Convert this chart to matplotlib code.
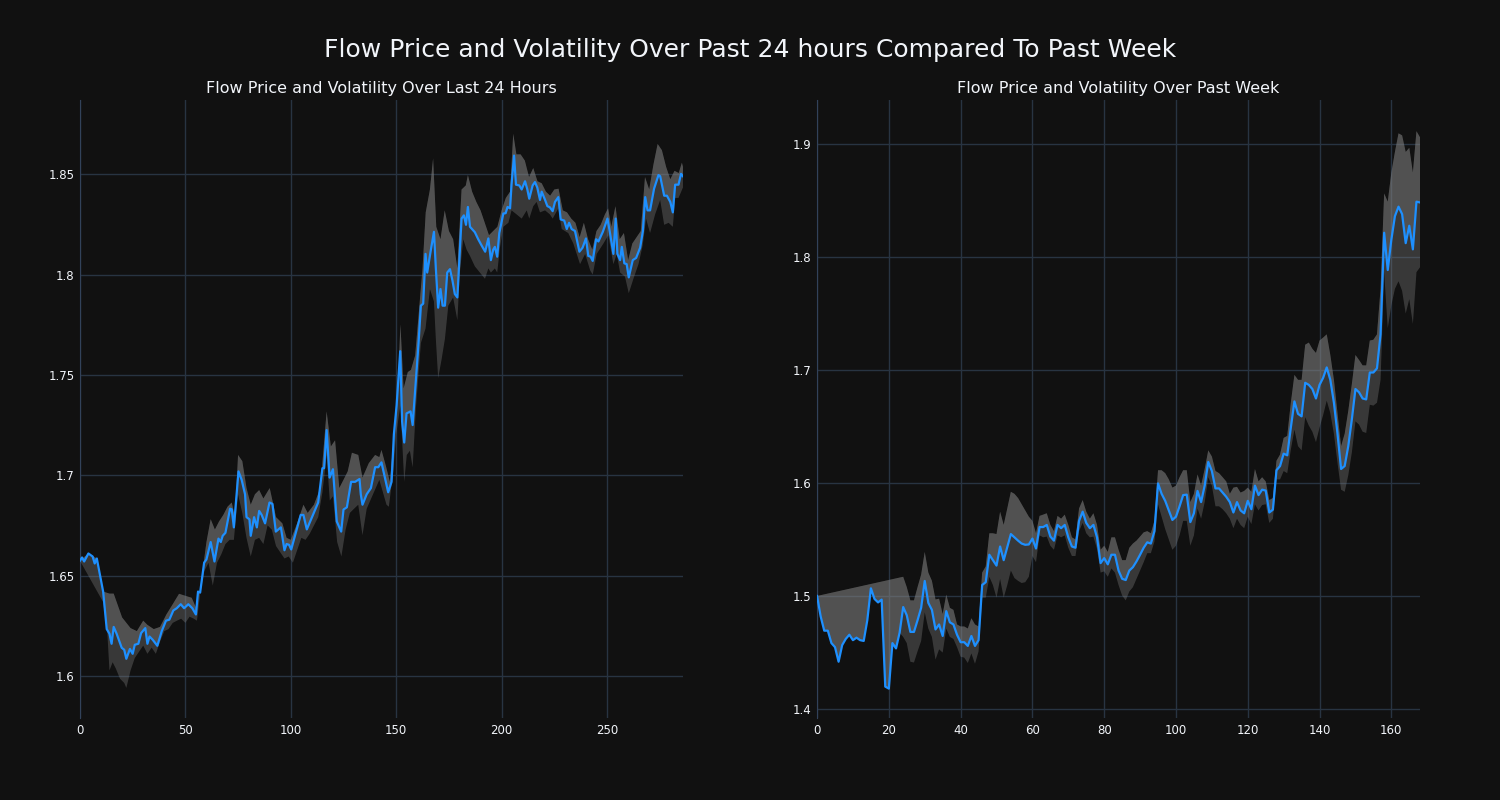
import numpy as np
import matplotlib.pyplot as plt
from matplotlib.ticker import FuncFormatter, MultipleLocator

# ---- last 24 hours (5 minute steps) ----
day_x = [0, 1, 2, 4, 6, 7, 8, 11, 12.7, 14, 15, 16, 17.4, 19.8, 21, 22, 23.7, 25, 26, 27.7,
         29, 31, 32, 33, 34.5, 36.7, 38.8, 40.8, 42.4, 44.3, 45.9, 47.8, 49.4, 51.4, 53.3, 55,
         56, 57, 58.9, 60, 62, 63.8, 65.7, 66.8, 67.7, 69, 71.2, 72, 73, 75.2, 76.7, 78.3, 79,
         80.4, 81, 82.6, 83.9, 85, 86.2, 87.8, 89.9, 91.3, 92.9, 95.3, 97, 98, 99.2, 100.2,
         104.7, 106, 107.6, 113, 115, 115.8, 117, 118.4, 120, 121.8, 123.9, 125, 126.6, 128.6,
         130.5, 132.6, 133.2, 134, 136, 138, 140, 141.5, 143, 146.2, 147.8, 148.9, 150.2, 151.9,
         152.8, 153.8, 154.9, 156.8, 157.8, 159.3, 160.6, 161.7, 162.8, 163.9, 164.7, 166.3,
         167.9, 168.8, 169.9, 171, 172, 173.1, 174.2, 175.5, 176.7, 177.8, 179, 180.2, 181,
         182.1, 183.1, 184, 185, 187.3, 188.9, 190.5, 192.2, 193.7, 194.9, 196, 196.8, 197.9,
         198.9, 200, 200.8, 201.9, 202.8, 204, 204.7, 205.9, 206.8, 208.4, 209.5, 211.1, 212.2,
         213.1, 214.7, 215.8, 216.9, 218.2, 219, 220.6, 221.7, 222.9, 224.2, 225.3, 226.9, 228,
         229.7, 230.9, 232, 233.2, 234.8, 236.9, 238.4, 240, 241.1, 242.2, 243.2, 244.8, 245.9,
         248, 250.2, 251.4, 253, 254.1, 254.9, 256.2, 257, 258.2, 259.3, 260.3, 262.2, 263.8,
         265.7, 267, 268.1, 269.2, 270.4, 272.3, 274.4, 275.2, 277.1, 278.4, 280, 281.2, 282.3,
         283.9, 285.1, 286]
day_price = [1.6574, 1.659, 1.657, 1.661, 1.6595, 1.656, 1.6585, 1.642, 1.6233, 1.621, 1.616,
             1.6244, 1.621, 1.614, 1.613, 1.6085, 1.6134, 1.611, 1.6155, 1.616, 1.6213, 1.6238,
             1.616, 1.6196, 1.618, 1.615, 1.6223, 1.6275, 1.628, 1.6326, 1.6337, 1.6357, 1.6337,
             1.6357, 1.6337, 1.6306, 1.642, 1.6415, 1.6564, 1.658, 1.6667, 1.657, 1.6684, 1.6667,
             1.6698, 1.6713, 1.6833, 1.683, 1.674, 1.7019, 1.6977, 1.6905, 1.6791, 1.678, 1.6698,
             1.6791, 1.674, 1.6822, 1.6802, 1.676, 1.6864, 1.6857, 1.6719, 1.674, 1.6626, 1.6657,
             1.6653, 1.663, 1.6802, 1.6802, 1.673, 1.6864, 1.7035, 1.7035, 1.7225, 1.6988, 1.703,
             1.677, 1.6719, 1.6829, 1.684, 1.6967, 1.6967, 1.6981, 1.6905, 1.6853, 1.6905, 1.6936,
             1.704, 1.704, 1.7064, 1.6915, 1.6967, 1.7205, 1.7349, 1.7618, 1.7267, 1.7163, 1.7308,
             1.7318, 1.725, 1.7473, 1.7659, 1.7845, 1.7855, 1.8103, 1.801, 1.8114, 1.8213, 1.8031,
             1.7835, 1.7928, 1.7845, 1.7845, 1.801, 1.8027, 1.7969, 1.7903, 1.7886, 1.8124, 1.8279,
             1.8295, 1.8248, 1.8337, 1.8238, 1.8211, 1.8176, 1.8145, 1.8114, 1.818, 1.8072, 1.8124,
             1.8138, 1.8089, 1.8207, 1.8262, 1.8304, 1.8306, 1.8337, 1.833, 1.8448, 1.8593, 1.8448,
             1.8444, 1.8424, 1.8465, 1.8424, 1.8378, 1.8444, 1.8461, 1.8434, 1.8372, 1.8413, 1.8372,
             1.8341, 1.8335, 1.8316, 1.8362, 1.8386, 1.8275, 1.8269, 1.8227, 1.8258, 1.8227, 1.8217,
             1.8114, 1.8134, 1.818, 1.8093, 1.8089, 1.8068, 1.8176, 1.8165, 1.8213, 1.8279, 1.8207,
             1.8103, 1.8279, 1.8103, 1.8072, 1.8138, 1.8056, 1.8052, 1.7986, 1.8072, 1.8083, 1.8134,
             1.8217, 1.8386, 1.832, 1.832, 1.8428, 1.8496, 1.849, 1.8393, 1.8393, 1.8362, 1.831,
             1.8448, 1.8448, 1.8502, 1.849]

day_upper_x = [0, 4, 8, 11, 14, 16, 20, 24, 27, 30, 32, 35, 38, 41, 44, 47, 50, 53, 55, 57, 60,
               62, 64, 66, 68, 70, 72, 73.5, 75, 77, 79, 81, 83, 85, 87, 90, 93, 96, 98, 100,
               103, 106, 108, 111, 114, 117, 119, 121, 123, 125, 127, 129, 132, 134, 137, 140,
               142, 143, 145, 147, 149, 151, 152, 153.5, 155.5, 157, 159, 161, 162.5, 164, 166,
               167.5, 169, 171, 173, 175, 177, 179, 181, 183, 184, 186, 188, 190, 192, 194, 196,
               198, 200, 202, 204, 205.5, 207, 209, 211, 213, 215, 217, 219, 221, 223, 225, 227,
               229, 231, 233, 235, 237, 239, 241, 243, 245, 247, 249, 250.5, 252, 254, 256, 258,
               260, 262, 264, 266, 268, 270, 272, 274, 276, 278, 280, 282, 284, 285.5, 286]
day_upper = [1.6574, 1.661, 1.6585, 1.642, 1.641, 1.641, 1.6291, 1.6238, 1.6223, 1.6275, 1.6254,
             1.6233, 1.6244, 1.6306, 1.6357, 1.6409, 1.6399, 1.6389, 1.6341, 1.643, 1.6667,
             1.6781, 1.6729, 1.677, 1.6802, 1.6843, 1.6864, 1.6791, 1.7101, 1.707, 1.6936, 1.6853,
             1.6905, 1.6926, 1.6884, 1.6936, 1.6791, 1.676, 1.6688, 1.6678, 1.676, 1.6853, 1.6812,
             1.6853, 1.6936, 1.7318, 1.7143, 1.7174, 1.6936, 1.6977, 1.7019, 1.7112, 1.7101,
             1.6988, 1.706, 1.7101, 1.709, 1.7126, 1.705, 1.6967, 1.7205, 1.7494, 1.7752, 1.7432,
             1.7514, 1.7525, 1.7597, 1.7845, 1.8031, 1.831, 1.8424, 1.8579, 1.8238, 1.8176, 1.832,
             1.8217, 1.8176, 1.8031, 1.8424, 1.8444, 1.8496, 1.8413, 1.8362, 1.832, 1.8258,
             1.8196, 1.8217, 1.8238, 1.832, 1.8382, 1.8413, 1.8702, 1.8599, 1.8599, 1.8568,
             1.8486, 1.8531, 1.8465, 1.8455, 1.8413, 1.8393, 1.8424, 1.8428, 1.832, 1.831, 1.8279,
             1.8258, 1.8186, 1.8258, 1.8176, 1.8124, 1.8217, 1.8248, 1.83, 1.833, 1.8238, 1.8341,
             1.8176, 1.8207, 1.8072, 1.8155, 1.8186, 1.8217, 1.8486, 1.8424, 1.8548, 1.8651,
             1.862, 1.8537, 1.8475, 1.8517, 1.8506, 1.8558, 1.8537]

day_lower_x = [0, 11, 13, 14, 15.5, 17, 19, 21, 22, 24, 26, 28, 30, 32, 34, 36, 38, 40, 42, 44,
               46, 48, 50, 52, 54, 55.5, 57, 59, 61, 63, 65, 67, 69, 71, 73, 75, 77, 79, 81, 83,
               85, 87, 89, 91, 93, 95, 97, 99, 101, 103, 105, 107, 109, 111, 113, 115, 117, 118.5,
               120, 122, 124, 126, 128, 130, 132, 134, 136, 139, 142, 145.4, 146.5, 148.6, 150,
               152, 153.8, 155, 156.5, 157.8, 159.3, 161.7, 163.9, 166, 167.9, 168.8, 169.9, 171.5,
               173.1, 174.7, 177, 179, 180.2, 181.8, 183.4, 185, 187.3, 189.7, 192.1, 193.7, 194.9,
               196.8, 197.9, 199.2, 200.8, 203.2, 204.7, 205.9, 207.1, 209.5, 211.9, 213.1, 215,
               216.6, 218.2, 220.6, 222.9, 224.2, 226.9, 228.5, 231.6, 234, 237.2, 239.6, 242,
               243.2, 245.1, 248.3, 250.6, 253, 254.6, 256.2, 258.5, 260.3, 262.5, 264.9, 266.9,
               268.5, 270.4, 272.8, 275.2, 277.1, 279.2, 281.2, 282.3, 283.9, 286]
day_lower = [1.6574, 1.6368, 1.6213, 1.6027, 1.6068, 1.6037, 1.5986, 1.5965, 1.594, 1.6027,
             1.6089, 1.612, 1.6151, 1.611, 1.6141, 1.611, 1.6171, 1.6223, 1.6233, 1.6264, 1.6275,
             1.6285, 1.6264, 1.6295, 1.6285, 1.6275, 1.6409, 1.6523, 1.6564, 1.645, 1.6564,
             1.6605, 1.6657, 1.6678, 1.6678, 1.6905, 1.6812, 1.6688, 1.6595, 1.6678, 1.6688,
             1.6657, 1.675, 1.6729, 1.6647, 1.6616, 1.6585, 1.6595, 1.6564, 1.6626, 1.6688,
             1.6678, 1.6709, 1.675, 1.6791, 1.6915, 1.7101, 1.6874, 1.6895, 1.6667, 1.6595,
             1.6729, 1.6812, 1.6833, 1.6853, 1.6701, 1.6833, 1.6905, 1.6977, 1.6853, 1.6843,
             1.7019, 1.7205, 1.7349, 1.6967, 1.7101, 1.7122, 1.7039, 1.7329, 1.7659, 1.7731,
             1.7928, 1.7866, 1.768, 1.7484, 1.7576, 1.768, 1.7845, 1.7886, 1.7773, 1.801, 1.8176,
             1.8124, 1.8093, 1.8041, 1.801, 1.7979, 1.8031, 1.801, 1.8031, 1.801, 1.8134, 1.8238,
             1.8258, 1.832, 1.831, 1.83, 1.8279, 1.832, 1.8279, 1.8341, 1.8362, 1.831, 1.832,
             1.83, 1.8279, 1.833, 1.8227, 1.8207, 1.8155, 1.8052, 1.8103, 1.8021, 1.8, 1.8103,
             1.8155, 1.8196, 1.8052, 1.8103, 1.801, 1.799, 1.7907, 1.7979, 1.8052, 1.8145,
             1.8279, 1.8207, 1.83, 1.8372, 1.8248, 1.8258, 1.8238, 1.8382, 1.8382, 1.8434]

# ---- past week (hourly) ----
week_price = [1.5, 1.482, 1.4693, 1.4693, 1.4583, 1.4547, 1.4418, 1.4565, 1.462, 1.4657, 1.4609,
              1.4631, 1.4609, 1.4602, 1.4785, 1.5068, 1.4974, 1.4943, 1.4968, 1.4198, 1.418,
              1.4583, 1.4536, 1.4675, 1.4902, 1.4829, 1.4682, 1.4682, 1.4785, 1.4895, 1.5133,
              1.4939, 1.4877, 1.4704, 1.4748, 1.4646, 1.4866, 1.4767, 1.4748, 1.4657, 1.4591,
              1.4591, 1.4558, 1.4646, 1.4558, 1.4609, 1.5097, 1.5122, 1.5365, 1.5317, 1.5269,
              1.5438, 1.5317, 1.5434, 1.5548, 1.5519, 1.549, 1.5464, 1.5453, 1.5456, 1.5508,
              1.542, 1.561, 1.561, 1.5629, 1.5526, 1.549, 1.5629, 1.56, 1.5629, 1.5519, 1.5438,
              1.5427, 1.5665, 1.5746, 1.5647, 1.56, 1.5629, 1.5519, 1.5291, 1.5335, 1.528, 1.5365,
              1.5365, 1.5225, 1.5152, 1.5141, 1.5225, 1.5255, 1.5306, 1.5365, 1.5427, 1.5475,
              1.5464, 1.5574, 1.5996, 1.5904, 1.5842, 1.5757, 1.5673, 1.5702, 1.5794, 1.5893,
              1.5897, 1.5654, 1.5732, 1.593, 1.5831, 1.5977, 1.6186, 1.6106, 1.5952, 1.5952,
              1.5915, 1.5878, 1.5831, 1.5739, 1.5831, 1.5757, 1.5732, 1.5842, 1.5768, 1.5977,
              1.5893, 1.5941, 1.5933, 1.5739, 1.5764, 1.6113, 1.615, 1.626, 1.6245, 1.6491, 1.6722,
              1.6612, 1.659, 1.6887, 1.6869, 1.6832, 1.6748, 1.6869, 1.6931, 1.7023, 1.6913,
              1.6711, 1.6436, 1.6124, 1.615, 1.6326, 1.6564, 1.6832, 1.6803, 1.6748, 1.674, 1.6978,
              1.6978, 1.7015, 1.7316, 1.8215, 1.7885, 1.8153, 1.8362, 1.8446, 1.838, 1.8123,
              1.8277, 1.8068, 1.849, 1.8483]

# upper edge: first point, then hours 24..168
week_upper = [1.5, 1.517, 1.5078, 1.4961, 1.4961, 1.5078, 1.5189, 1.539, 1.5207, 1.5134, 1.4969,
              1.4976, 1.484, 1.5012, 1.4895, 1.4877, 1.4748, 1.473, 1.473, 1.4712, 1.4803,
              1.4748, 1.473, 1.5207, 1.5262, 1.5555, 1.5555, 1.5548, 1.5746, 1.5629, 1.5775,
              1.5922, 1.5904, 1.5867, 1.5812, 1.5757, 1.5702, 1.5665, 1.5555, 1.5709, 1.572,
              1.5732, 1.5629, 1.5574, 1.5709, 1.5684, 1.572, 1.5629, 1.5519, 1.55, 1.5775, 1.5849,
              1.5746, 1.5684, 1.5732, 1.5629, 1.5409, 1.5445, 1.539, 1.5519, 1.5519, 1.5409,
              1.5317, 1.5317, 1.5427, 1.5464, 1.549, 1.5526, 1.5563, 1.5574, 1.5555, 1.5665,
              1.6113, 1.6113, 1.6087, 1.6032, 1.5959, 1.5977, 1.6051, 1.6113, 1.6113, 1.5831,
              1.5904, 1.6076, 1.5977, 1.6124, 1.6289, 1.6234, 1.6106, 1.6087, 1.6051, 1.6014,
              1.5904, 1.5959, 1.5966, 1.5915, 1.593, 1.5959, 1.5922, 1.6124, 1.6014, 1.6051,
              1.6014, 1.5849, 1.5867, 1.6197, 1.6252, 1.6399, 1.6417, 1.6711, 1.6957, 1.6913,
              1.6913, 1.7224, 1.7243, 1.7188, 1.7151, 1.7261, 1.7287, 1.7316, 1.7133, 1.6913,
              1.6619, 1.6326, 1.6436, 1.6638, 1.6876, 1.7133, 1.7089, 1.7041, 1.7041, 1.7261,
              1.7268, 1.7316, 1.7719, 1.8563, 1.849, 1.8747, 1.893, 1.9095, 1.9077, 1.893, 1.8967,
              1.8747, 1.9114, 1.9059]

# lower edge for hours 24..168 (before that it sits on the price line)
week_lower = [1.4638, 1.4583, 1.4418, 1.4411, 1.451, 1.4602, 1.4857, 1.4712, 1.4638, 1.4437,
              1.4528, 1.4499, 1.4712, 1.4638, 1.462, 1.4547, 1.4462, 1.4455, 1.4407, 1.4492, 1.44,
              1.451, 1.4985, 1.4985, 1.517, 1.5097, 1.4985, 1.5152, 1.4985, 1.5097, 1.5225, 1.5159,
              1.5134, 1.5115, 1.5122, 1.517, 1.5354, 1.5299, 1.5537, 1.5519, 1.5526, 1.5445,
              1.5409, 1.5537, 1.5519, 1.5537, 1.5427, 1.5354, 1.5354, 1.5574, 1.5647, 1.5555,
              1.5519, 1.5526, 1.5416, 1.5207, 1.5218, 1.517, 1.5244, 1.5207, 1.5097, 1.5004,
              1.4961, 1.504, 1.5078, 1.5152, 1.5225, 1.5299, 1.5379, 1.5379, 1.5482, 1.5812,
              1.5702, 1.5592, 1.55, 1.5409, 1.5445, 1.5537, 1.5665, 1.5665, 1.5445, 1.5537, 1.5775,
              1.5684, 1.5831, 1.6051, 1.5977, 1.5794, 1.5794, 1.5768, 1.5732, 1.5684, 1.56, 1.5684,
              1.5629, 1.56, 1.5702, 1.5636, 1.5812, 1.5757, 1.5805, 1.5812, 1.5647, 1.5684, 1.6032,
              1.6032, 1.6106, 1.6087, 1.6296, 1.6472, 1.6326, 1.6289, 1.6583, 1.6509, 1.6454,
              1.6362, 1.6491, 1.6601, 1.6729, 1.6619, 1.6436, 1.6179, 1.5941, 1.5922, 1.6069,
              1.6271, 1.6546, 1.6517, 1.6454, 1.6443, 1.6693, 1.6685, 1.6711, 1.6913, 1.7866,
              1.7371, 1.7573, 1.7719, 1.7786, 1.7701, 1.75, 1.7628, 1.7408, 1.7866, 1.791]

BG = '#111111'
GRID = '#283442'
TEXT = '#f2f5fa'
LINE = '#1e90ff'


def fmt(v, pos):
    return '{:g}'.format(round(v, 4))


def style_axes(ax, title, xlim, ylim, xstep, ystep):
    ax.set_facecolor(BG)
    ax.set_title(title, color=TEXT, fontsize=11.5, pad=5)
    ax.set_xlim(*xlim)
    ax.set_ylim(*ylim)
    ax.xaxis.set_major_locator(MultipleLocator(xstep))
    ax.yaxis.set_major_locator(MultipleLocator(ystep))
    ax.yaxis.set_major_formatter(FuncFormatter(fmt))
    ax.grid(True, color=GRID, linewidth=1)
    ax.set_axisbelow(True)
    ax.tick_params(length=0, labelsize=8.5, colors=TEXT, pad=4)
    for side in ['top', 'right', 'bottom']:
        ax.spines[side].set_visible(False)
    ax.spines['left'].set_color('#32425a')


def draw_band(ax, px, py, ux, uy, lx, ly):
    ux, uy, lx, ly = map(np.asarray, (ux, uy, lx, ly))
    px, py = np.asarray(px), np.asarray(py)
    # whole band, then a lighter layer above the price line
    ax.fill(np.r_[ux, lx[::-1]], np.r_[uy, ly[::-1]], color='#808080', alpha=0.36, lw=0, zorder=2)
    ax.fill(np.r_[ux, px[::-1]], np.r_[uy, py[::-1]], color='#808080', alpha=0.36, lw=0, zorder=3)
    ax.plot(px, py, color=LINE, lw=1.6, zorder=4)


fig = plt.figure(figsize=(15, 8), dpi=100, facecolor=BG)
ax1 = fig.add_axes([0.0533, 0.1025, 0.402, 0.7725])
ax2 = fig.add_axes([0.5447, 0.1025, 0.402, 0.7725])

style_axes(ax1, 'Flow Price and Volatility Over Last 24 Hours', (0, 286), (1.579, 1.887), 50, 0.05)
draw_band(ax1, day_x, day_price, day_upper_x, day_upper, day_lower_x, day_lower)

week_x = np.arange(len(week_price))
upper_x = np.r_[0, np.arange(24, 24 + len(week_upper) - 1)]
lower_x = np.r_[week_x[:24], np.arange(24, 24 + len(week_lower))]
lower_y = np.r_[week_price[:24], week_lower]
style_axes(ax2, 'Flow Price and Volatility Over Past Week', (0, 168), (1.392, 1.939), 20, 0.1)
draw_band(ax2, week_x, week_price, upper_x, week_upper, lower_x, lower_y)

fig.suptitle('Flow Price and Volatility Over Past 24 hours Compared To Past Week',
             color=TEXT, fontsize=18, y=0.952)

fig.savefig('out.png', dpi=100, facecolor=BG)
